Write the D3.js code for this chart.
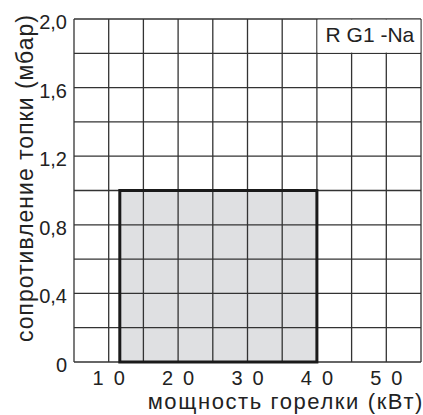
<!DOCTYPE html>
<html>
<head>
<meta charset="utf-8">
<script src="https://cdn.jsdelivr.net/npm/d3@7"></script>
<style>
  body { margin: 0; background: #fff; }
  svg text { font-family: "Liberation Sans", Arial, sans-serif; fill: #222; }
</style>
</head>
<body>
<div id="chart"></div>
<script>
// axis ticks
const xTicks = [10, 20, 30, 40, 50];
const yTicks = [0, 0.4, 0.8, 1.2, 1.6, 2.0];
// grid steps
const xGrid = d3.range(5, 55.1, 5);
const yGrid = d3.range(0, 2.01, 0.2);
// working field of the burner
const powerRange = [11.6, 40];
const resistanceRange = [0, 1.0];
const modelName = "R G1 -Na";

const width = 423, height = 415;
const margin = {top: 19, right: 2, bottom: 53, left: 74};

const svg = d3.select("#chart").append("svg")
    .attr("width", width)
    .attr("height", height);

const x = d3.scaleLinear().domain([5, 55]).range([margin.left, width - margin.right]);
const y = d3.scaleLinear().domain([0, 2]).range([height - margin.bottom, margin.top]);

// working area fill
svg.append("rect")
    .attr("x", x(powerRange[0]))
    .attr("y", y(resistanceRange[1]))
    .attr("width", x(powerRange[1]) - x(powerRange[0]))
    .attr("height", y(resistanceRange[0]) - y(resistanceRange[1]))
    .attr("fill", "#dfe0e2");

// grid
svg.append("g").selectAll("line")
    .data(xGrid)
    .enter().append("line")
    .attr("x1", d => x(d)).attr("x2", d => x(d))
    .attr("y1", y(0)).attr("y2", y(2))
    .attr("stroke", "#333").attr("stroke-width", 1.3);

svg.append("g").selectAll("line")
    .data(yGrid)
    .enter().append("line")
    .attr("x1", x(5)).attr("x2", x(55))
    .attr("y1", d => y(d)).attr("y2", d => y(d))
    .attr("stroke", "#333").attr("stroke-width", 1.3);

// model label box, covers the grid in the top right corner
svg.append("rect")
    .attr("x", x(40) + 0.7)
    .attr("y", y(2) + 0.7)
    .attr("width", x(55) - x(40) - 1.4)
    .attr("height", y(1.8) - y(2) - 1.4)
    .attr("fill", "#fff");

svg.append("text")
    .attr("x", (x(40) + x(55)) / 2 + 1)
    .attr("y", y(1.9) + 6)
    .attr("text-anchor", "middle")
    .attr("font-size", 21)
    .text(modelName);

// working area border
svg.append("rect")
    .attr("x", x(powerRange[0]))
    .attr("y", y(resistanceRange[1]))
    .attr("width", x(powerRange[1]) - x(powerRange[0]))
    .attr("height", y(resistanceRange[0]) - y(resistanceRange[1]))
    .attr("fill", "none")
    .attr("stroke", "#1a1a1a")
    .attr("stroke-width", 3);

// y tick labels
svg.append("g").selectAll("text")
    .data(yTicks)
    .enter().append("text")
    .attr("x", margin.left - 7)
    .attr("y", d => y(d) + 10)
    .attr("text-anchor", "end")
    .attr("font-size", 20)
    .text(d => d === 0 ? "0" : d3.format(".1f")(d).replace(".", ","));

// x tick labels, digits spaced out like the original
svg.append("g").selectAll("text")
    .data(xTicks)
    .enter().append("text")
    .attr("x", d => x(d))
    .attr("y", y(0) + 23)
    .attr("text-anchor", "middle")
    .attr("font-size", 20)
    .text(d => String(d).split("").join("\u2002"));

// axis titles
svg.append("text")
    .attr("x", width + 1)
    .attr("y", height - 6)
    .attr("text-anchor", "end")
    .attr("font-size", 22)
    .attr("letter-spacing", 1.6)
    .text("мощность горелки (кВт)");

svg.append("text")
    .attr("transform", "translate(33," + 178 + ") rotate(-90)")
    .attr("text-anchor", "middle")
    .attr("font-size", 23)
    .attr("letter-spacing", 1.0)
    .text("сопротивление топки (мбар)");
</script>
</body>
</html>
